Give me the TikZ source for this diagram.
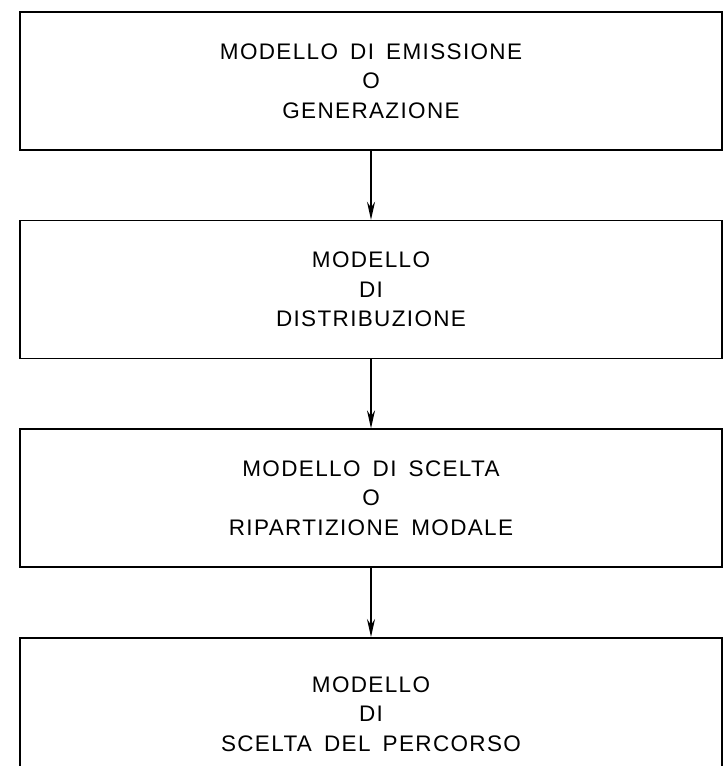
\documentclass[tikz,border=0pt]{standalone}
\usepackage{fontspec}
\setmainfont{Liberation Sans}[LetterSpace=6,WordSpace=1.6]
\usetikzlibrary{positioning,arrows.meta}

\begin{document}
\begin{tikzpicture}[x=1pt,y=-1pt,
	box/.style={draw,line width=1.6pt,minimum width=702pt,minimum height=138pt,align=center,font=\fontsize{22.5}{29.5}\selectfont},
	flow/.style={line width=1.6pt,-{Stealth[length=18pt,width=8pt]}}]
	\useasboundingbox (0,0) rectangle (724,766);
	\clip (0,0) rectangle (724,766);
	\node[box] (emiss) at (371,81) {MODELLO DI EMISSIONE\\O\\GENERAZIONE};
	\node[box,below=69pt of emiss] (distr) {MODELLO\\DI\\DISTRIBUZIONE};
	\node[box,below=69pt of distr] (modal) {MODELLO DI SCELTA\\O\\RIPARTIZIONE MODALE};
	\node[box,below=69pt of modal,minimum height=152pt] (perc) {MODELLO\\DI\\SCELTA DEL PERCORSO};
	\draw[flow] (emiss) -- (distr);
	\draw[flow] (distr) -- (modal);
	\draw[flow] (modal) -- (perc);
\end{tikzpicture}
\end{document}
